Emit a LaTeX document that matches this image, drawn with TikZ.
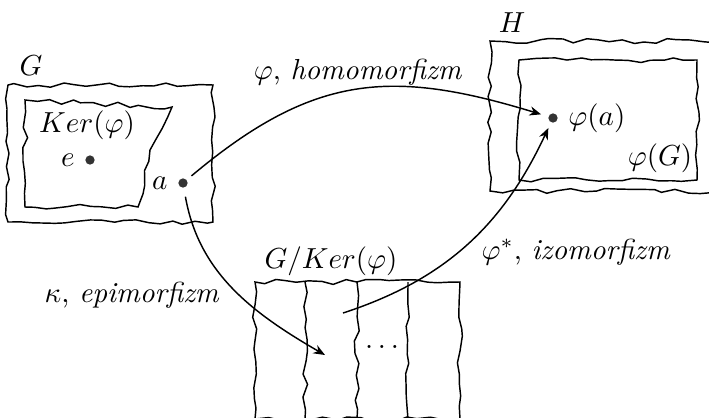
\documentclass[tikz,border=0pt]{standalone}
\usetikzlibrary{arrows.meta,positioning,fit,decorations.pathmorphing}
\tikzset{
  wavy/.style={
    draw,
    line width=0.5pt,
    decorate,
    decoration={random steps, segment length=4pt, amplitude=0.9pt}
  },
  setbox/.style={
    wavy,
    inner sep=0pt
  },
  elem/.style={
    circle,
    fill=black!80,
    inner sep=0pt,
    minimum size=3.2pt
  },
  map/.style={
    -{Stealth[length=4pt, width=3.2pt]},
    line width=0.5pt
  },
  setlabel/.style={
    inner sep=1pt
  }
}

\begin{document}
\begin{tikzpicture}[x=0.345pt, y=0.345pt]
\pgfmathsetseed{11}
\useasboundingbox (0,0) rectangle (709,417);
\clip (0,0) rectangle (709,417);

% ---------------------------------------------------------------------------
% Group G with its kernel
% ---------------------------------------------------------------------------
\coordinate (Gsw) at (8,195);
\coordinate (Gne) at (213,332);
\node[setbox, fit=(Gsw)(Gne)] (G) {};
\node[setlabel] (Glabel) at (31,351) {$G$};
\draw[wavy] (25,317) -- (172,310) -- (150,267) -- (138,210) -- (25,210) -- cycle;
\node[setlabel] (kerlabel) at (87,292) {$Ker(\varphi)$};
\node[elem] (e) at (90,257) {};
\node[left=0pt of e] (elabel) {$e$};
\node[elem] (a) at (183,234) {};
\node[left=0pt of a] (alabel) {$a$};

% ---------------------------------------------------------------------------
% Group H with the image
% ---------------------------------------------------------------------------
\coordinate (Hsw) at (490,226);
\coordinate (Hne) at (760,376);
\node[setbox, fit=(Hsw)(Hne)] (H) {};
\node[setlabel] (Hlabel) at (512,394) {$H$};
\coordinate (imsw) at (519,237);
\coordinate (imne) at (697,357);
\node[setbox, fit=(imsw)(imne)] (image) {};
\node[setlabel] (imagelabel) at (660,259) {$\varphi(G)$};
\node[elem] (phia) at (553,299) {};
\node[right=0pt of phia] (phialabel) {$\varphi(a)$};

% ---------------------------------------------------------------------------
% Quotient group
% ---------------------------------------------------------------------------
\coordinate (qsw) at (255,-2);
\coordinate (qne) at (460,135);
\node[setbox, fit=(qsw)(qne)] (quot) {};
\foreach \sx in {305,357,408}
  \draw[wavy] (\sx,135) -- (\sx,-2);
\node[setlabel] (quotlabel) at (331,156) {$G/Ker(\varphi)$};
\node (cosets) at (382,70) {$\dots$};
\coordinate (coset) at (325,62);
\coordinate (cosetstart) at (343,104);

% ---------------------------------------------------------------------------
% Maps
% ---------------------------------------------------------------------------
\draw[map, shorten <=2pt, shorten >=2.5pt] (a) to[out=40, in=163, looseness=1.15] (phia);
\draw[map, shorten <=3pt] (a) to[out=-80, in=150] (coset);
\draw[map, shorten >=2pt] (cosetstart) to[out=18, in=-115] (phia);

\node (homlabel) at (358,345) {$\varphi$, \textit{homomorfizm}};
\node (epilabel) at (132,122) {$\kappa$, \textit{epimorfizm}};
\node (isolabel) at (576,165) {$\varphi^*$, \textit{izomorfizm}};

\end{tikzpicture}
\end{document}
